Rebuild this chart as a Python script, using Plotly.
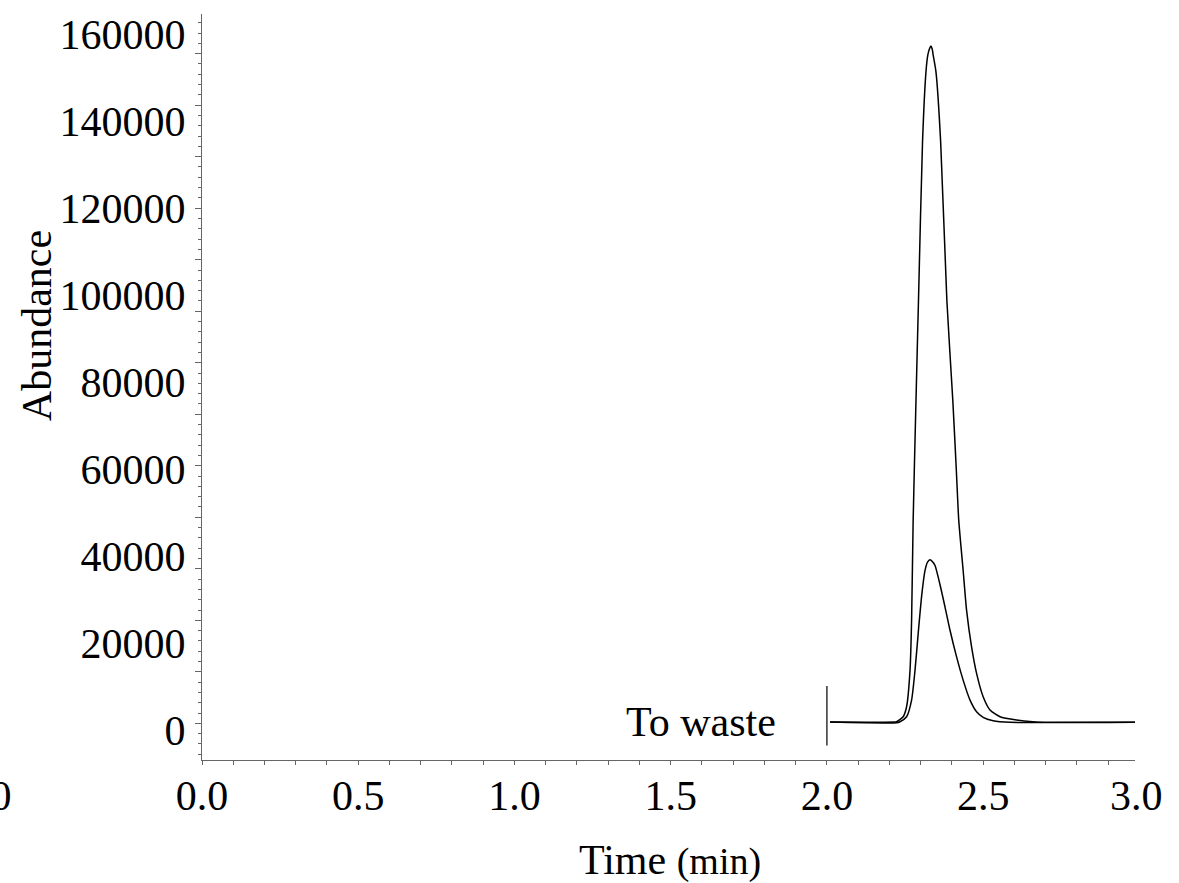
import plotly.graph_objects as go

# ---- data ----
time_big = [2.010, 2.218, 2.223, 2.244, 2.255, 2.266, 2.271, 2.276, 2.285, 2.293, 2.306, 2.317,
            2.323, 2.328, 2.333, 2.337, 2.340, 2.349, 2.364, 2.384, 2.403, 2.414, 2.422, 2.436, 2.447,
            2.463, 2.479, 2.500, 2.522, 2.554, 2.607, 2.659, 2.714, 2.986]
abund_big = [1834, 1834, 1903, 3049, 5341, 13754, 25215, 48138, 75646, 98569, 135246, 151292,
             155189, 156560, 157252, 156560, 155189, 151292, 135246, 98569, 75646, 60000, 48138, 36677, 27508,
             19095, 12997, 7633, 4585, 3049, 2292, 1903, 1765, 1765]

time_small = [2.010, 2.223, 2.234, 2.255, 2.271, 2.282, 2.293, 2.304, 2.314, 2.322, 2.330, 2.338,
              2.346, 2.362, 2.378, 2.394, 2.415, 2.436, 2.458, 2.479, 2.500, 2.532, 2.586, 2.986]
abund_small = [1834, 1673, 1903, 3049, 6877, 13754, 22923, 31335, 36677, 38600, 39130, 38700,
               37823, 33400, 28264, 22923, 16803, 11462, 6877, 4195, 2911, 2132, 1765, 1765]

x_tick_vals = [0.0, 0.5, 1.0, 1.5, 2.0, 2.5]
x_tick_text = ["0.0", "0.5", "1.0", "1.5", "2.0", "2.5"]
y_tick_vals = [0, 20000, 40000, 60000, 80000, 100000, 120000, 140000, 160000]
y_tick_text = ["0", "20000", "40000", "60000", "80000", "100000", "120000", "140000", "160000"]

marker_time = 2.0
marker_low, marker_high = -3550, 10086
waste_label = "To waste"

FONT = "Liberation Serif"
W, H = 1179, 883
L, R, T, B = 202, 44, 12, 123
X_RANGE = [0, 2.986]
Y_RANGE = [-6900, 164600]

def px(xp):
    return (xp - L) / (W - L - R)

def py(yp):
    return (H - B - yp) / (H - B - T)

fig = go.Figure()
fig.add_trace(go.Scatter(x=time_big, y=abund_big, mode="lines",
                         line=dict(color="black", width=1.5, shape="spline", smoothing=0.6),
                         showlegend=False))
fig.add_trace(go.Scatter(x=time_small, y=abund_small, mode="lines",
                         line=dict(color="black", width=1.5, shape="spline", smoothing=0.6),
                         showlegend=False))

fig.add_shape(type="line", x0=marker_time, x1=marker_time, y0=marker_low, y1=marker_high,
              xref="x", yref="y", line=dict(color="black", width=1.2))

axis_col = "#666666"
fig.update_layout(
    width=W, height=H,
    margin=dict(l=L, r=R, t=T, b=B, pad=0),
    plot_bgcolor="white", paper_bgcolor="white",
    font=dict(family=FONT, size=42, color="black"),
    xaxis=dict(range=X_RANGE, showgrid=False, zeroline=False, showline=True,
               linecolor=axis_col, linewidth=1, ticks="outside", ticklen=4, tickwidth=1,
               tickcolor=axis_col, tickvals=x_tick_vals, ticktext=x_tick_text,
               minor=dict(dtick=0.1, tick0=0, ticks="outside", ticklen=4, tickcolor=axis_col),
               ticklabelstandoff=-5, tickfont=dict(family=FONT, size=42, color="black")),
    yaxis=dict(range=Y_RANGE, showgrid=False, zeroline=False, showline=True,
               linecolor=axis_col, linewidth=1, ticks="", tickvals=y_tick_vals,
               ticktext=y_tick_text, ticklabelstandoff=7,
               tickfont=dict(family=FONT, size=42, color="black")),
    yaxis2=dict(range=Y_RANGE, overlaying="y", side="left", anchor="x", showgrid=False,
                zeroline=False, showline=False, showticklabels=False,
                ticks="outside", tick0=13364, dtick=11844, ticklen=6, tickcolor=axis_col,
                minor=dict(tick0=13364, dtick=2368.8, ticks="outside", ticklen=3, tickcolor=axis_col)),
)
# invisible trace to activate yaxis2
fig.add_trace(go.Scatter(x=[0], y=[0], yaxis="y2", mode="markers",
                         marker=dict(opacity=0), showlegend=False, hoverinfo="skip"))

ann = []
ann.append(dict(text=waste_label, x=px(701), y=py(722), xref="paper", yref="paper",
                xanchor="center", yanchor="middle", showarrow=False,
                font=dict(family=FONT, size=42, color="black")))
ann.append(dict(text="Abundance", x=px(37), y=py(325), xref="paper", yref="paper",
                xanchor="center", yanchor="middle", textangle=-90, showarrow=False,
                font=dict(family=FONT, size=42, color="black")))
ann.append(dict(text='Time <span style="font-size:38px">(min)</span>', x=px(670), y=py(860),
                xref="paper", yref="paper", xanchor="center", yanchor="middle", showarrow=False,
                font=dict(family=FONT, size=42, color="black")))
ann.append(dict(text="3.0", x=px(1136), y=py(796), xref="paper", yref="paper",
                xanchor="center", yanchor="middle", showarrow=False,
                font=dict(family=FONT, size=42, color="black")))
ann.append(dict(text="3.0", x=px(14), y=py(796), xref="paper", yref="paper",
                xanchor="right", yanchor="middle", showarrow=False,
                font=dict(family=FONT, size=42, color="black")))
fig.update_layout(annotations=ann)

fig.write_html("out.html")
